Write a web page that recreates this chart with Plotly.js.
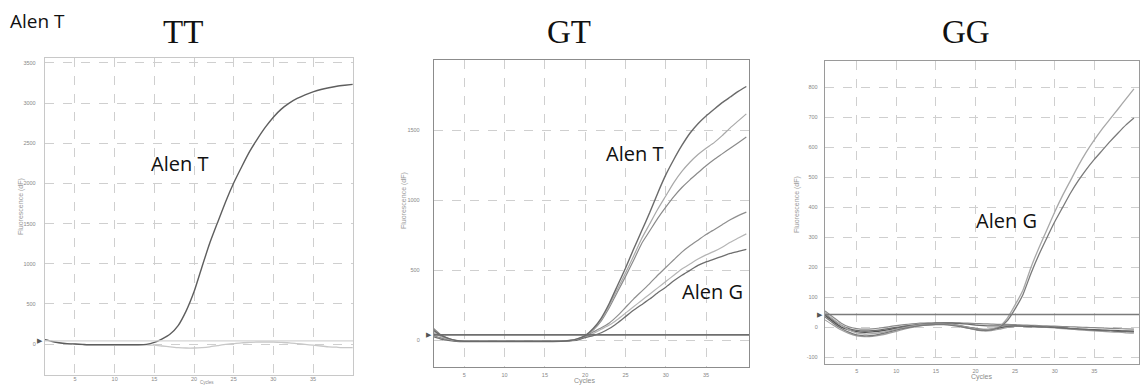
<!DOCTYPE html>
<html><head><meta charset="utf-8">
<script src="https://cdn.plot.ly/plotly-3.0.1.min.js"></script>
<style>html,body{margin:0;padding:0;background:#fff;overflow:hidden}</style>
</head><body><div id="chart" style="width:1141px;height:385px"></div>
<script>
// ---- data ----
const cycles = [1,2,3,4,5,6,7,8,9,10,11,12,13,14,15,16,17,18,19,20,21,22,23,24,25,26,27,28,29,30,31,32,33,34,35,36,37,38,39,40];

// TT panel
const ttAlenT = [60,35,15,5,0,-5,-10,-10,-10,-10,-10,-10,-10,-5,20,65,125,230,410,650,960,1260,1520,1775,2005,2205,2395,2555,2700,2825,2925,3000,3058,3103,3140,3170,3192,3210,3223,3234];
const ttOther = [60,35,15,5,0,-10,-10,-10,-10,-10,-10,-10,-10,-10,-15,-25,-35,-45,-50,-50,-45,-35,-20,-5,5,15,20,25,25,25,20,15,5,-5,-15,-25,-35,-40,-45,-45];

// GT panel
const gtT1 = [80,40,15,0,-5,-5,-5,-5,-5,-5,-5,-5,-5,-5,-5,-5,-5,0,12,35,85,160,265,390,515,650,780,910,1050,1180,1290,1390,1477,1545,1600,1648,1695,1735,1775,1810];
const gtT2 = [60,30,10,-2,-6,-6,-6,-6,-6,-6,-6,-6,-6,-6,-6,-6,-5,0,10,32,80,150,250,365,480,600,725,830,935,1030,1125,1205,1270,1325,1370,1410,1460,1515,1565,1615];
const gtT3 = [95,45,15,0,-5,-6,-6,-6,-6,-6,-6,-6,-6,-6,-6,-6,-5,-1,9,30,75,140,235,345,455,570,690,780,870,950,1025,1090,1145,1195,1245,1290,1330,1370,1410,1450];
const gtG1 = [40,20,5,-4,-7,-7,-7,-7,-7,-7,-7,-7,-7,-7,-7,-7,-6,-2,5,30,60,90,125,175,235,295,350,405,465,520,575,630,675,715,755,790,825,860,890,915];
const gtG2 = [70,35,12,-2,-6,-7,-7,-7,-7,-7,-7,-7,-7,-7,-7,-7,-6,-2,4,25,50,80,110,150,195,240,285,330,375,420,465,510,545,580,610,635,665,700,730,760];
const gtG3 = [30,12,0,-6,-8,-8,-8,-8,-8,-8,-8,-8,-8,-8,-8,-8,-7,-3,3,20,35,55,85,125,170,215,255,295,340,380,425,465,500,535,560,580,600,620,635,650];

// GG panel
const ggG1 = [50,28,8,-8,-18,-22,-21,-17,-12,-6,-1,4,8,10,11,11,9,5,0,-5,-8,-6,3,30,75,125,200,265,325,385,440,490,540,585,625,662,695,728,762,795];
const ggG2 = [35,15,-3,-16,-25,-28,-27,-22,-16,-9,-3,2,6,8,9,9,7,3,-2,-7,-10,-8,0,22,62,110,180,242,298,352,400,448,490,527,560,590,620,648,675,698];
const ggN1 = [55,35,15,2,-4,-6,-5,-2,2,6,9,12,14,15,16,16,16,15,14,13,12,11,10,10,9,8,7,6,5,4,3,2,1,0,-1,-2,-3,-4,-5,-6];
const ggN2 = [40,20,2,-8,-14,-16,-15,-12,-8,-3,2,6,9,11,12,12,10,6,1,-4,-7,-6,-2,2,4,4,3,2,1,0,-2,-4,-6,-7,-8,-9,-10,-11,-12,-13];
const ggN3 = [25,8,-8,-20,-28,-31,-30,-26,-20,-13,-6,0,5,8,10,10,8,4,-2,-8,-12,-11,-6,0,3,4,3,2,0,-2,-4,-6,-8,-10,-12,-13,-15,-16,-18,-19];
const ggN4 = [45,25,8,-4,-10,-12,-11,-8,-4,0,4,7,10,12,13,14,14,13,11,8,6,5,5,5,5,4,3,2,1,0,-2,-4,-5,-7,-9,-10,-11,-13,-14,-15];

const thresholdTT = 40, thresholdGT = 40, thresholdGG = 43;

const xTicks = [5,10,15,20,25,30,35];
const ttYTicks = [0,500,1000,1500,2000,2500,3000,3500];
const gtYTicks = [0,500,1000,1500];
const ggYTicks = [-100,0,100,200,300,400,500,600,700,800];
const panelTitles = ['TT','GT','GG'];
const cornerLabel = 'Alen T';
const yTitle = 'Fluorescence (dF)';
const xTitle = 'Cycles';

// ---- helpers ----
const W = 1141, H = 385;
const px = x => x / W;
const py = y => 1 - y / H;

function line(y, xa, ya, color, width) {
  return {x: cycles, y: y, xaxis: xa, yaxis: ya, type: 'scatter', mode: 'lines',
    line: {color: color, width: width, shape: 'spline', smoothing: 0.5}, hoverinfo: 'skip'};
}

const traces = [
  line(ttOther, 'x', 'y', '#c8c8c8', 1.3),
  line(ttAlenT, 'x', 'y', '#5e5e5e', 1.4),

  line(gtG2, 'x2', 'y2', '#b5b5b5', 1.2),
  line(gtG1, 'x2', 'y2', '#8e8e8e', 1.2),
  line(gtG3, 'x2', 'y2', '#6e6e6e', 1.3),
  line(gtT3, 'x2', 'y2', '#8a8a8a', 1.2),
  line(gtT2, 'x2', 'y2', '#a8a8a8', 1.2),
  line(gtT1, 'x2', 'y2', '#6a6a6a', 1.4),

  line(ggN1, 'x3', 'y3', '#8a8a8a', 1.2),
  line(ggN2, 'x3', 'y3', '#555555', 1.4),
  line(ggN3, 'x3', 'y3', '#a0a0a0', 1.2),
  line(ggN4, 'x3', 'y3', '#6c6c6c', 1.3),
  line(ggG1, 'x3', 'y3', '#a8a8a8', 1.3),
  line(ggG2, 'x3', 'y3', '#7a7a7a', 1.3)
];

const tickFont = {family: 'Liberation Sans, Arial, sans-serif', size: 5.5, color: '#888888'};

function xAxis(domain, range, anchor, lineColor, tl, standoff) {
  const ax = {domain: domain, range: range, anchor: anchor, tickvals: xTicks, ticktext: xTicks.map(String),
    showgrid: true, griddash: 'dash', gridcolor: '#cfcfcf', gridwidth: 1, zeroline: false,
    showline: true, mirror: true, linecolor: lineColor, linewidth: 1.2,
    ticks: 'outside', ticklen: tl, tickcolor: 'rgba(0,0,0,0)', tickfont: tickFont, fixedrange: true};
  if (standoff !== undefined) ax.ticklabelstandoff = standoff;
  return ax;
}
function yAxis(domain, range, anchor, tickvals, lineColor, tl) {
  return {domain: domain, range: range, anchor: anchor, tickvals: tickvals, ticktext: tickvals.map(String),
    showgrid: true, griddash: 'dash', gridcolor: '#cfcfcf', gridwidth: 1, zeroline: false,
    showline: true, mirror: true, linecolor: lineColor, linewidth: 1.2,
    ticks: 'outside', ticklen: tl, tickcolor: 'rgba(0,0,0,0)', tickfont: tickFont, fixedrange: true};
}

const layout = {
  width: W, height: H,
  margin: {l: 0, r: 0, t: 0, b: 0},
  paper_bgcolor: '#ffffff', plot_bgcolor: '#ffffff',
  showlegend: false,
  xaxis:  xAxis([px(45), px(353)], [1.22, 40.04], 'y', '#c8c8c8', 0, -2),
  yaxis:  yAxis([py(375), py(58)], [-386, 3562], 'x', ttYTicks, '#c8c8c8', 7),
  xaxis2: xAxis([px(434), px(749)], [1.24, 40.33], 'y2', '#8c8c8c', 2),
  yaxis2: yAxis([py(367), py(60)], [-189, 1999], 'x2', gtYTicks, '#8c8c8c', 12),
  xaxis3: xAxis([px(825), px(1139)], [1.0, 40.64], 'y3', '#9a9a9a', 1),
  yaxis3: yAxis([py(364), py(61)], [-122, 888], 'x3', ggYTicks, '#9a9a9a', 5),
  shapes: [
    {type: 'line', xref: 'x domain', yref: 'y', x0: 0, x1: 1, y0: thresholdTT, y1: thresholdTT, line: {color: '#d4d4d4', width: 1.2}},
    {type: 'line', xref: 'x2 domain', yref: 'y2', x0: 0, x1: 1, y0: thresholdGT, y1: thresholdGT, line: {color: '#6e6e6e', width: 1.6}},
    {type: 'line', xref: 'x3 domain', yref: 'y3', x0: 0, x1: 1, y0: thresholdGG, y1: thresholdGG, line: {color: '#7a7a7a', width: 1.6}}
  ],
  annotations: []
};

const A = layout.annotations;
// corner label
A.push({xref: 'paper', yref: 'paper', x: px(8), y: py(21), xanchor: 'left', yanchor: 'middle', showarrow: false,
  text: cornerLabel, font: {family: 'Open Sans, sans-serif', size: 19, color: '#111'}});
// panel titles
const titleX = [183, 569, 966];
panelTitles.forEach((t, i) => A.push({xref: 'paper', yref: 'paper', x: px(titleX[i]), y: py(32), xanchor: 'center', yanchor: 'middle',
  showarrow: false, text: t, font: {family: 'Liberation Serif, Times New Roman, serif', size: 33, color: '#111'}}));
// curve labels
const lab = (x, y, t) => A.push({xref: 'paper', yref: 'paper', x: px(x), y: py(y), xanchor: 'center', yanchor: 'middle',
  showarrow: false, text: t, font: {family: 'Open Sans, sans-serif', size: 20, color: '#111'}});
lab(179, 163, 'Alen T');
lab(634, 153, 'Alen T');
lab(712, 291, 'Alen G');
lab(1006, 220, 'Alen G');
// axis titles
const yTitlePos = [[21, 207], [404, 201], [797, 205]];
yTitlePos.forEach(p => A.push({xref: 'paper', yref: 'paper', x: px(p[0]), y: py(p[1]), xanchor: 'center', yanchor: 'middle',
  showarrow: false, textangle: -90, text: yTitle, font: {family: 'Liberation Sans, sans-serif', size: 7, color: '#9a9a9a'}}));
const xTitlePos = [[207, 382.5, 4.5], [585, 381, 7], [982, 377, 7]];
xTitlePos.forEach(p => A.push({xref: 'paper', yref: 'paper', x: px(p[0]), y: py(p[1]), xanchor: 'center', yanchor: 'middle',
  showarrow: false, text: xTitle, font: {family: 'Liberation Sans, sans-serif', size: p[2], color: '#8a8a8a'}}));
// threshold markers
[['x', 'y', thresholdTT], ['x2', 'y2', thresholdGT], ['x3', 'y3', thresholdGG]].forEach(m => A.push({
  xref: m[0] + ' domain', yref: m[1], x: 0, y: m[2], xanchor: 'right', yanchor: 'middle', showarrow: false,
  text: '▶', font: {family: 'DejaVu Sans, sans-serif', size: 7, color: '#555'}}));

Plotly.newPlot('chart', traces, layout, {staticPlot: true, displayModeBar: false});
</script>
</body></html>
